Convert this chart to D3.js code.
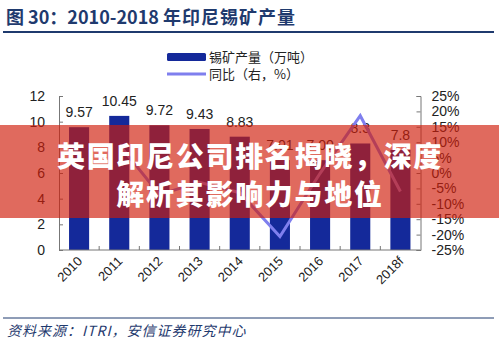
<!DOCTYPE html>
<html><head><meta charset="utf-8">
<script src="https://cdn.jsdelivr.net/npm/d3@7/dist/d3.min.js"></script>
<style>
html,body{margin:0;padding:0;background:#fff;}
svg{display:block;}
</style></head>
<body>
<svg id="c" width="499" height="346"></svg>
<script>
const categories = ["2010","2011","2012","2013","2014","2015","2016","2017","2018f"];
const output = [9.57, 10.45, 9.72, 9.43, 8.83, 7.01, 7.00, 8.3, 7.8];
const outputLabels = ["9.57","10.45","9.72","9.43","8.83","7.01","7.00","8.3","7.8"];
const yoy = [null, 9.2, -7.0, -3.0, -6.4, -20.6, -0.1, 18.6, -6.0];
const leftTicks = [0,2,4,6,8,10,12];
const rightTicks = [-25,-20,-15,-10,-5,0,5,10,15,20,25];

const svg = d3.select("#c");
const numFont = "'Liberation Sans', Arial, sans-serif";
const cjkFont = "'Noto Sans CJK SC', 'Liberation Sans', sans-serif";
const navy = "#1F3A6E";
const barColor = "#14299A";
const lineColor = "#7F7FEE";

// Title
const title = svg.append("text").attr("x",6).attr("y",24)
  .attr("font-family",cjkFont).attr("font-size",18).attr("font-weight","bold")
  .attr("fill",navy);
title.append("tspan").text("图 30：2010-2018 ");
title.append("tspan").attr("letter-spacing",1).text("年印尼锡矿产量");
svg.append("line").attr("x1",3).attr("x2",494).attr("y1",32).attr("y2",32)
  .attr("stroke",navy).attr("stroke-width",2);

// Legend
svg.append("rect").attr("x",167).attr("y",53).attr("width",39).attr("height",8).attr("rx",1.5).attr("fill",barColor);
svg.append("text").attr("x",209).attr("y",61.5).attr("font-family",cjkFont).attr("font-size",13).attr("fill","#222").text("锡矿产量（万吨）");
svg.append("line").attr("x1",167).attr("x2",206).attr("y1",74).attr("y2",74).attr("stroke",lineColor).attr("stroke-width",3);
svg.append("text").attr("x",209).attr("y",78.5).attr("font-family",cjkFont).attr("font-size",13).attr("fill","#222").text("同比（右，%）");

// Scales
const x = d3.scaleBand().domain(categories).range([59,420.5]).paddingInner(0.5).paddingOuter(0.25);
const yL = d3.scaleLinear().domain([0,12]).range([250,96]);
const yR = d3.scaleLinear().domain([-25,25]).range([250,96]);

// Bars
svg.append("g").selectAll("rect").data(categories).join("rect")
  .attr("x",d=>x(d)).attr("width",x.bandwidth())
  .attr("y",(d,i)=>yL(output[i])).attr("height",(d,i)=>yL(0)-yL(output[i]))
  .attr("fill",barColor);

// Value labels
svg.append("g").selectAll("text").data(categories).join("text")
  .attr("x",d=>x(d)+x.bandwidth()/2).attr("y",(d,i)=>yL(output[i])-10)
  .attr("text-anchor","middle").attr("font-family",numFont).attr("font-size",14).attr("fill","#222")
  .text((d,i)=>outputLabels[i]);

// Line
const line = d3.line().defined(d=>d.v!==null)
  .x(d=>x(d.c)+x.bandwidth()/2).y(d=>yR(d.v));
svg.append("path").datum(categories.map((c,i)=>({c,v:yoy[i]})))
  .attr("d",line).attr("fill","none").attr("stroke",lineColor).attr("stroke-width",3).attr("stroke-linejoin","miter");

// Axes
const axL = svg.append("g").attr("transform","translate(59,0)")
  .call(d3.axisLeft(yL).tickValues(leftTicks).tickSize(-4).tickPadding(14));
const axR = svg.append("g").attr("transform","translate(420.5,0)")
  .call(d3.axisRight(yR).tickValues(rightTicks).tickSize(-4).tickPadding(11).tickFormat(d=>d+"%"));
[axL,axR].forEach(a=>{
  a.select(".domain").attr("stroke","#777");
  a.selectAll(".tick line").attr("stroke","#777");
  a.selectAll(".tick text").attr("font-family",numFont).attr("font-size",14).attr("fill","#222");
});

// Bottom axis
svg.append("line").attr("x1",59).attr("x2",420.5).attr("y1",250).attr("y2",250).attr("stroke","#777");
svg.append("g").selectAll("line").data(categories.slice(1)).join("line")
  .attr("x1",d=>x(d)-x.step()*x.paddingInner()/2).attr("x2",d=>x(d)-x.step()*x.paddingInner()/2)
  .attr("y1",250).attr("y2",246).attr("stroke","#777");
svg.append("g").selectAll("text").data(categories).join("text")
  .attr("transform",d=>`translate(${x(d)+x.bandwidth()/2+4},${262}) rotate(-45)`)
  .attr("text-anchor","end").attr("font-family",numFont).attr("font-size",13).attr("fill","#222")
  .text(d=>d);

// Source
svg.append("line").attr("x1",3).attr("x2",494).attr("y1",318).attr("y2",318).attr("stroke",navy).attr("stroke-width",1);
svg.append("text").attr("x",7).attr("y",336).attr("font-family",cjkFont).attr("font-size",14)
  .attr("letter-spacing",1).attr("font-style","italic").attr("fill",navy).text("资料来源：ITRI，安信证券研究中心");

// Overlay banner
svg.append("rect").attr("x",0).attr("y",125).attr("width",499).attr("height",93)
  .attr("fill","rgb(208,29,11)").attr("fill-opacity",0.66);
const ov = svg.append("g").attr("font-family",cjkFont).attr("font-weight",900).attr("font-size",28)
  .attr("fill","#fff").attr("text-anchor","middle").attr("letter-spacing",1.7);
ov.append("text").attr("x",250).attr("y",167).text("英国印尼公司排名揭晓，深度");
ov.append("text").attr("x",250).attr("y",205).text("解析其影响力与地位");
</script>
</body></html>
